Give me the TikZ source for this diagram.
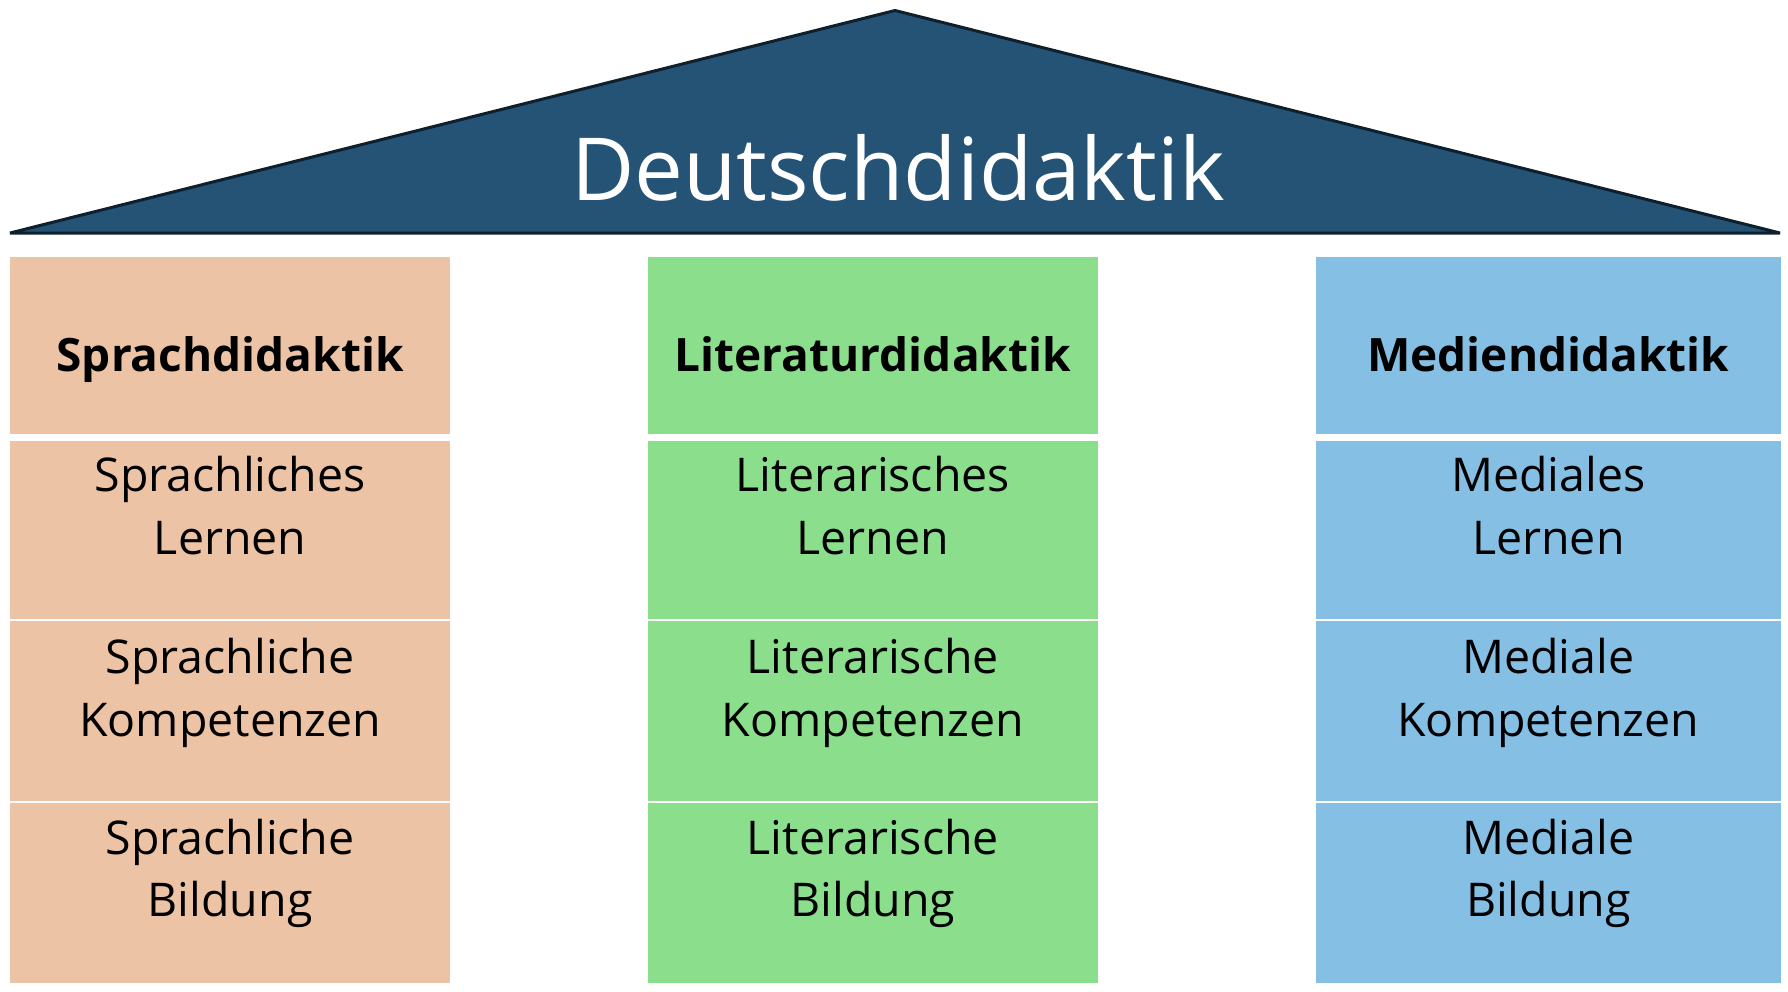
\documentclass[tikz,border=0pt]{standalone}
\usepackage{fontspec}
\setmainfont{Open Sans}[Ligatures=NoCommon]
\definecolor{roofc}{HTML}{255375}
\definecolor{roofline}{HTML}{0F202D}
\definecolor{orangec}{HTML}{EDC3A6}
\definecolor{greenc}{HTML}{8ADE8C}
\definecolor{bluec}{HTML}{85BFE4}
\newcommand{\celltxt}[4]{\parbox[t][#2][t]{#1}{\centering\rule{0pt}{#3}#4}}
\begin{document}
\begin{tikzpicture}[x=1pt,y=-1pt,
  cell/.style={inner sep=0pt, outer sep=0pt, anchor=north west, text=black},
  headtxt/.style={font=\bfseries\fontsize{46}{62.5}\selectfont},
  bodytxt/.style={font=\fontsize{46.5}{62.5}\selectfont},
  roof/.style={fill=roofc, draw=roofline, line width=3pt, line join=bevel}]
\useasboundingbox (0,0) rectangle (1788,991);
% roof
\coordinate (rl) at (10,233);
\coordinate (rt) at (895,10.5);
\coordinate (rr) at (1780,233);
\draw[roof] (rl) -- (rt) -- (rr) -- cycle;
\node[text=white, font=\fontsize{87}{87}\selectfont, anchor=base, inner sep=0pt] (title) at (898,200) {Deutschdidaktik};
% left column
\node[cell, fill=orangec, headtxt] (s0) at (10.3,256.7) {\celltxt{439.7pt}{176.8pt}{115pt}{Sprachdidaktik}};
\node[cell, fill=orangec, bodytxt] (s1) at (10.3,441) {\celltxt{439.7pt}{177.7pt}{50.7pt}{Sprachliches\\Lernen}};
\node[cell, fill=orangec, bodytxt] (s2) at (10.3,621) {\celltxt{439.7pt}{180pt}{52.7pt}{Sprachliche\\Kompetenzen}};
\node[cell, fill=orangec, bodytxt] (s3) at (10.3,803) {\celltxt{439.7pt}{180pt}{51.3pt}{Sprachliche\\Bildung}};
% middle column
\node[cell, fill=greenc, headtxt] (l0) at (648,256.7) {\celltxt{449.7pt}{176.8pt}{115pt}{Literaturdidaktik}};
\node[cell, fill=greenc, bodytxt] (l1) at (648,441) {\celltxt{449.7pt}{177.7pt}{50.7pt}{Literarisches\\Lernen}};
\node[cell, fill=greenc, bodytxt] (l2) at (648,621) {\celltxt{449.7pt}{180pt}{52.7pt}{Literarische\\Kompetenzen}};
\node[cell, fill=greenc, bodytxt] (l3) at (648,803) {\celltxt{449.7pt}{180pt}{51.3pt}{Literarische\\Bildung}};
% right column
\node[cell, fill=bluec, headtxt] (m0) at (1316,256.7) {\celltxt{464.7pt}{176.8pt}{115pt}{Mediendidaktik}};
\node[cell, fill=bluec, bodytxt] (m1) at (1316,441) {\celltxt{464.7pt}{177.7pt}{50.7pt}{Mediales\\Lernen}};
\node[cell, fill=bluec, bodytxt] (m2) at (1316,621) {\celltxt{464.7pt}{180pt}{52.7pt}{Mediale\\Kompetenzen}};
\node[cell, fill=bluec, bodytxt] (m3) at (1316,803) {\celltxt{464.7pt}{180pt}{51.3pt}{Mediale\\Bildung}};
\end{tikzpicture}
\end{document}
